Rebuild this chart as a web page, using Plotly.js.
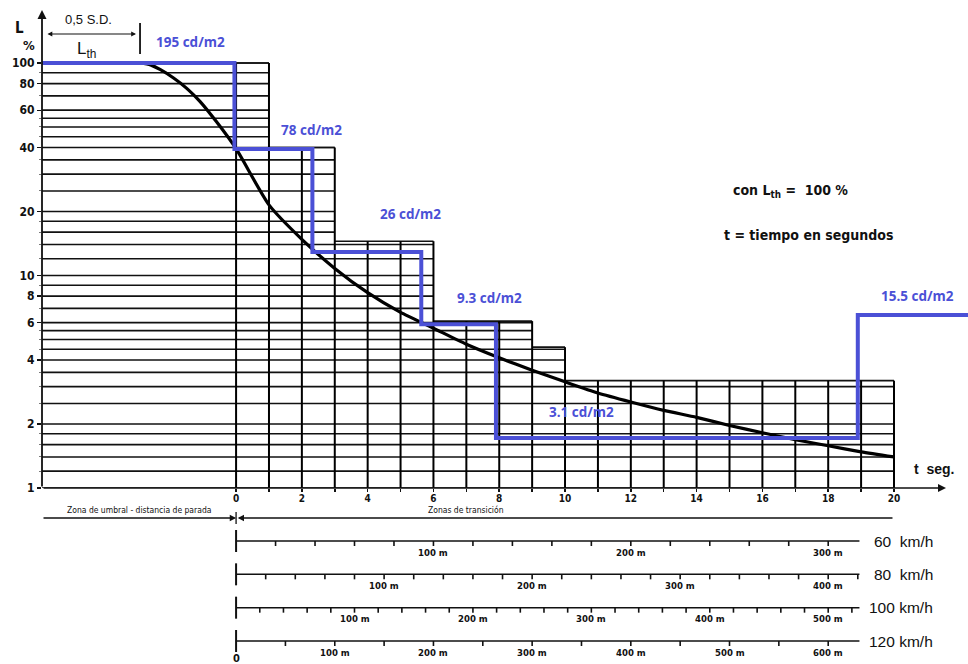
<!DOCTYPE html>
<html><head><meta charset="utf-8">
<script src="https://cdn.plot.ly/plotly-3.0.1.min.js"></script>
<style>html,body{margin:0;padding:0;background:#fff}#chart{width:968px;height:664px}</style>
</head><body><div id="chart"></div>
<script>
// ---------------- data ----------------
const curveT = [-2.92,-2.6,-2.3,-1.9,-1.5,-1.1,-0.6,0,1,2,3,4,5,6,7,8,9,10,11,12,13,14,15,16,17,18,19,20];
const curveL = [100,98,93,85,76,66,53,39.5,21.5,14.8,10.8,8.3,6.7,5.65,4.75,4.1,3.58,3.16,2.8,2.54,2.32,2.15,1.97,1.82,1.69,1.58,1.48,1.40];
const stepT = [-5.9,-0.05,2.32,5.63,7.9,18.9,22.4];
const stepL = [100,39.4,12.9,5.9,1.72,6.52,6.52];
const stepLabels = ['195 cd/m2','78 cd/m2','26 cd/m2','9.3 cd/m2','3.1 cd/m2','15.5 cd/m2'];
const gridLevels = [1,1.2,1.4,1.6,1.8,2,2.5,3,3.5,4,4.5,5,5.5,6,7,8,9,10,12,14,16,18,20,25,30,35,40,45,50,55,60,70,80,90,100];
const blockEdges = [-5.9,1,3,6,9,10,20];
const blockTops = [100,40,14.5,6.1,4.6,3.2];
const gridTimes = [0,1,2,3,4,5,6,7,8,9,10,11,12,13,14,15,16,17,18,19,20];
const yTickVals = [1,2,4,6,8,10,20,40,60,80,100];
const xTickVals = [0,2,4,6,8,10,12,14,16,18,20];
const speeds = [60,80,100,120];
const speedTickStep = [20,20,20,50];
const speedLabelStep = 100;
const scaleEndT = 18.95;

// ---------------- styling / layout helpers ----------------
const XMIN = -5.9, XMAX = 22.25;
const BLUE = '#4b50d6';
const COND = '"Liberation Sans Narrow","DejaVu Sans Condensed","Arial Narrow",sans-serif';
const SANS = '"Liberation Sans",Arial,sans-serif';
const BLUEFONT = '"Open Sans","Noto Sans",sans-serif';
const labelPos = [{t:-1.4,dy:21},{t:2.3,dy:19},{t:5.3,dy:38},{t:7.7,dy:26},{t:10.5,dy:26},{t:20.7,dy:19}];
const Y_DOM0 = (664-488)/664;
const px = p => (p-42)/926;        // pixel x -> paper x
const py = p => (664-p)/664;        // pixel y -> paper y
const txt = (x, y, text, font, extra) => Object.assign({x:px(x), y:py(y), xref:'paper', yref:'paper',
  xanchor:'center', yanchor:'middle', showarrow:false, text, font}, extra || {});

// grid
const gx = [], gy = [];
gridLevels.forEach(v => {
  let i = -1;
  blockTops.forEach((tp, k) => { if (tp >= v - 1e-9) i = k; });
  gx.push(XMIN, blockEdges[i+1], null); gy.push(v, v, null);
});
blockTops.forEach((tp, k) => { gx.push(blockEdges[k], blockEdges[k+1], null); gy.push(tp, tp, null); });
const vx = [], vy = [];
gridTimes.forEach(t => {
  let i = 0;
  blockEdges.forEach((e, k) => { if (e < t && k < blockTops.length) i = k; });
  vx.push(t, t, null); vy.push(1, blockTops[i], null);
});

const traces = [
  {x: gx, y: gy, mode:'lines', line:{color:'#111', width:1.6}, hoverinfo:'skip'},
  {x: vx, y: vy, mode:'lines', line:{color:'#000', width:2}, hoverinfo:'skip'},
  {x: curveT, y: curveL, mode:'lines', line:{color:'#000', width:3.2, shape:'spline', smoothing:0.6}, hoverinfo:'skip'},
  {x: stepT, y: stepL, mode:'lines', line:{color:BLUE, width:4, shape:'hv'}, hoverinfo:'skip'}
];

const shapes = [];
const annotations = [];

// distance scales
speeds.forEach((s, i) => {
  const row = i + 1;
  const mps = s / 3.6;
  traces.push({x:[0, scaleEndT], y:[row,row], xaxis:'x', yaxis:'y2', mode:'lines',
    line:{color:'#111', width:1.5}, hoverinfo:'skip'});
  shapes.push({type:'line', xref:'x', yref:'y2', ysizemode:'pixel', yanchor:row, x0:0, x1:0, y0:11, y1:-11,
    line:{color:'#111', width:2}});
  for (let d = speedTickStep[i]; d / mps <= scaleEndT; d += speedTickStep[i]) {
    const t = d / mps;
    shapes.push({type:'line', xref:'x', yref:'y2', ysizemode:'pixel', yanchor:row, x0:t, x1:t, y0:0, y1:-5,
      line:{color:'#111', width:1.6}});
    if (d % speedLabelStep === 0) {
      annotations.push({x:t, y:row, xref:'x', yref:'y2', yshift:-11, showarrow:false,
        text:'<b>'+d+' m</b>', font:{family:COND, size:9.5, color:'#111'}});
    }
  }
  annotations.push({x:21.25, y:row, xref:'x', yref:'y2', xanchor:'right', showarrow:false,
    text: s + (s < 100 ? '  ' : ' ') + 'km/h', font:{family:SANS, size:15.5, color:'#111'}});
});
annotations.push({x:0, y:speeds.length, xref:'x', yref:'y2', yshift:-17, showarrow:false,
  text:'<b>0</b>', font:{family:COND, size:11, color:'#111'}});

// zones
const ZROW = 0.31;
annotations.push({x:0, y:ZROW, xref:'x', yref:'y2', ax:XMIN, ay:ZROW, axref:'x', ayref:'y2', text:'',
  showarrow:true, arrowhead:2, arrowsize:0.9, arrowwidth:1.4, arrowcolor:'#111'});
annotations.push({x:0.05, y:ZROW, xref:'x', yref:'y2', ax:20, ay:ZROW, axref:'x', ayref:'y2', text:'',
  showarrow:true, arrowhead:2, arrowsize:0.9, arrowwidth:1.4, arrowcolor:'#111'});
shapes.push({type:'line', xref:'x', yref:'y2', ysizemode:'pixel', yanchor:ZROW, x0:0, x1:0, y0:6, y1:-6,
  line:{color:'#111', width:1.3}});
annotations.push({x:(XMIN+0)/2, y:ZROW, xref:'x', yref:'y2', yshift:8, showarrow:false,
  text:'Zona de umbral - distancia de parada', font:{family:COND, size:8.5, color:'#111'}});
annotations.push({x:7, y:ZROW, xref:'x', yref:'y2', yshift:8, showarrow:false,
  text:'Zonas de transición', font:{family:COND, size:8.5, color:'#111'}});

// blue step labels
stepLabels.forEach((s, i) => {
  annotations.push({x:labelPos[i].t, y:Math.log10(stepL[i]), xref:'x', yref:'y', yshift:labelPos[i].dy,
    showarrow:false, text:'<b>'+s+'</b>', font:{family:BLUEFONT, size:13.5, color:BLUE}});
});

// axes arrows
annotations.push({x:0, y:py(10), xref:'paper', yref:'paper', ax:0, ay:478, text:'', showarrow:true,
  arrowhead:2, arrowsize:1, arrowwidth:1.8, arrowcolor:'#111'});
annotations.push({x:px(946), y:Y_DOM0, xref:'paper', yref:'paper', ax:-904, ay:0, text:'', showarrow:true,
  arrowhead:2, arrowsize:1, arrowwidth:1.6, arrowcolor:'#111'});

// top-left texts
annotations.push(txt(19, 28, '<b>L</b>', {family:COND, size:15, color:'#111'}));
annotations.push(txt(29, 46, '<b>%</b>', {family:COND, size:13, color:'#111'}));
annotations.push(txt(88, 19, '0,5 S.D.', {family:SANS, size:13, color:'#111'}));
annotations.push({x:px(136), y:py(34), xref:'paper', yref:'paper', ax:-90, ay:0, text:'', showarrow:true,
  arrowside:'end+start', arrowhead:2, arrowsize:0.8, arrowwidth:1.2, arrowcolor:'#111'});
shapes.push({type:'line', xref:'x', yref:'paper', x0:curveT[0], x1:curveT[0], y0:py(54), y1:py(23),
  line:{color:'#111', width:1.8}});
annotations.push(txt(86, 50, 'L<sub>th</sub>', {family:SANS, size:17, color:'#111'}));

// right texts
annotations.push(txt(790, 191, '<b>con L<sub>th</sub> =  100 %</b>', {family:COND, size:14, color:'#111'}));
annotations.push(txt(808, 235, '<b>t = tiempo en segundos</b>', {family:COND, size:14, color:'#111'}));
annotations.push({x:20.55, y:0, xref:'x', yref:'y', xanchor:'left', yshift:19, showarrow:false,
  text:'<b>t  seg.</b>', font:{family:SANS, size:14, color:'#111'}});

const minorVals = gridLevels.filter(v => !yTickVals.includes(v));

const layout = {
  width:968, height:664,
  margin:{l:42, r:0, t:0, b:0, pad:0},
  paper_bgcolor:'#fff', plot_bgcolor:'rgba(0,0,0,0)',
  showlegend:false,
  xaxis:{range:[XMIN, XMAX], domain:[0,1], anchor:'y', showgrid:false, zeroline:false, showline:false,
    tickmode:'array', tickvals:gridTimes,
    ticktext:gridTimes.map(t => xTickVals.includes(t) ? '<b>'+t+'</b>' : ''),
    ticks:'outside', ticklen:3, tickwidth:1.5, tickcolor:'#111', ticklabelstandoff:-2,
    tickfont:{family:COND, size:10, color:'#111'}},
  yaxis:{type:'log', range:[0, 2.2965], domain:[Y_DOM0, 1], anchor:'x', showgrid:false, zeroline:false, showline:false,
    tickmode:'array', tickvals:yTickVals, ticktext:yTickVals.map(v => '<b>'+v+'</b>'),
    ticks:'outside', ticklen:4, tickwidth:1.3, tickcolor:'#111',
    tickfont:{family:COND, size:12, color:'#111'},
    minor:{tickmode:'array', tickvals:minorVals, ticks:'outside', ticklen:2, tickwidth:1, tickcolor:'#777'}},
  yaxis2:{domain:[0, Y_DOM0], range:[4.69, -0.59], anchor:'x', visible:false, showgrid:false, zeroline:false},
  shapes, annotations
};

Plotly.newPlot('chart', traces, layout, {displayModeBar:false, staticPlot:true});
</script>
</body></html>
